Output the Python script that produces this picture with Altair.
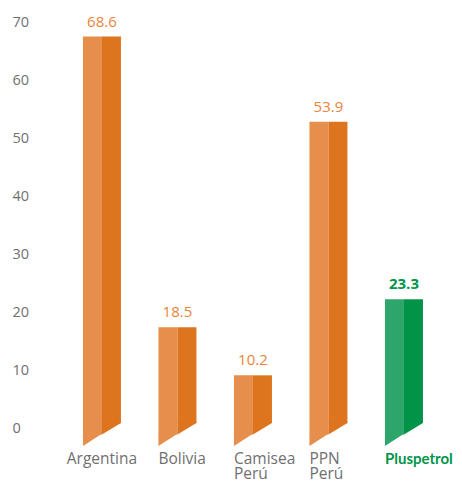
import altair as alt
import pandas as pd

categories = ["Argentina", "Bolivia", "Camisea Perú", "PPN Perú", "Pluspetrol"]
values = [68.6, 18.5, 10.2, 53.9, 23.3]
labels = ["68.6", "18.5", "10.2", "53.9", "23.3"]
highlight = [False, False, False, False, True]
y_ticks = [0, 10, 20, 30, 40, 50, 60, 70]

ORANGE_L, ORANGE_D = "#E68E4C", "#DD741E"
GREEN_L, GREEN_D = "#2EA56A", "#009449"
ORANGE_T, GREEN_T = "#E8843C", "#00954A"
GRAY = "#707070"

rows = []
for c, v, lab, h in zip(categories, values, labels, highlight):
    for half in ["L", "R"]:
        key = ("G" if h else "O") + half
        rows.append({"cat": c, "value": v, "label": lab, "half": half,
                     "key": key, "hl": h})
df = pd.DataFrame(rows)

is_plus = "datum.value == 'Pluspetrol'"
x_enc = alt.X("cat:N", sort=categories, title=None,
              scale=alt.Scale(paddingInner=0.4967, paddingOuter=0.457, align=0.55),
              axis=alt.Axis(
                  domain=False, ticks=False,
                  labelPadding=2, labelLineHeight=15, labelBaseline="top",
                  labelExpr="split(datum.value, ' ')",
                  labelAngle=0,
                  labelFontSize=alt.condition(is_plus, alt.value(15), alt.value(15.5)),
                  labelFont=alt.condition(is_plus, alt.value("Lato"), alt.value("Open Sans")),
                  labelColor=alt.condition(is_plus, alt.value(GREEN_T), alt.value(GRAY)),
                  labelFontWeight=alt.condition(is_plus, alt.value("bold"), alt.value("normal")),
                  labelAlign=alt.condition("datum.value == 'Argentina'", alt.value("center"), alt.value("left")),
                  labelOffset=alt.condition("datum.value == 'Argentina'", alt.value(0), alt.value(-19)),
              ))
xo_enc = alt.XOffset("half:N", sort=["L", "R"], scale=alt.Scale(paddingInner=0, paddingOuter=0))
y_scale = alt.Scale(domain=[-2.5, 73], nice=False, zero=False)
color_enc = alt.Color("key:N", legend=None,
                      scale=alt.Scale(domain=["OL", "OR", "GL", "GR"],
                                      range=[ORANGE_L, ORANGE_D, GREEN_L, GREEN_D]))

base = alt.Chart(df)

left_bars = base.transform_filter("datum.half == 'L'").mark_bar(strokeWidth=0).encode(
    x=x_enc, xOffset=xo_enc,
    y=alt.Y("value:Q", scale=y_scale, title=None,
            axis=alt.Axis(values=y_ticks, domain=False, ticks=False, grid=False,
                          labelAlign="left", labelPadding=33, labelOffset=-6,
                          labelFontSize=14.5, labelFont="Open Sans", labelColor=GRAY)),
    y2=alt.datum(0),
    color=color_enc,
)
right_bars = base.transform_filter("datum.half == 'R'").mark_bar(strokeWidth=0, y2Offset=-11.5).encode(
    x=x_enc, xOffset=xo_enc, y=alt.Y("value:Q", scale=y_scale), y2=alt.datum(0), color=color_enc,
)
left_tri = base.transform_filter("datum.half == 'L'").mark_point(
    shape="M-1,-0.08 L1,-0.08 L-1,1.21 Z", filled=True, opacity=1, size=361, strokeWidth=0
).encode(x=x_enc, xOffset=xo_enc, y=alt.datum(0, scale=y_scale), color=color_enc)
right_tri = base.transform_filter("datum.half == 'R'").mark_point(
    shape="M-1,-1.3 L1,-1.3 L1,-1.21 L-1,0 Z", filled=True, opacity=1, size=361, strokeWidth=0
).encode(x=x_enc, xOffset=xo_enc, y=alt.datum(0, scale=y_scale), color=color_enc)

text_df = base.transform_filter("datum.half == 'L'")
value_text = text_df.transform_filter("!datum.hl").mark_text(
    dy=-10, baseline="alphabetic", fontSize=15, font="Open Sans", color=ORANGE_T
).encode(x=x_enc, y=alt.Y("value:Q", scale=y_scale), text="label:N")
value_text_hl = text_df.transform_filter("datum.hl").mark_text(
    dy=-10, baseline="alphabetic", fontSize=15, font="Open Sans", fontWeight="bold", color=GREEN_T
).encode(x=x_enc, y=alt.Y("value:Q", scale=y_scale), text="label:N")

chart = alt.layer(left_bars, right_bars, left_tri, right_tri, value_text, value_text_hl).properties(
    width=409, height=438,
    padding={"left": 37, "top": 3, "right": 0, "bottom": 31},
    autosize="none",
).configure_view(stroke=None)

chart.save("out.html", embed_options={"renderer": "svg", "actions": False})
